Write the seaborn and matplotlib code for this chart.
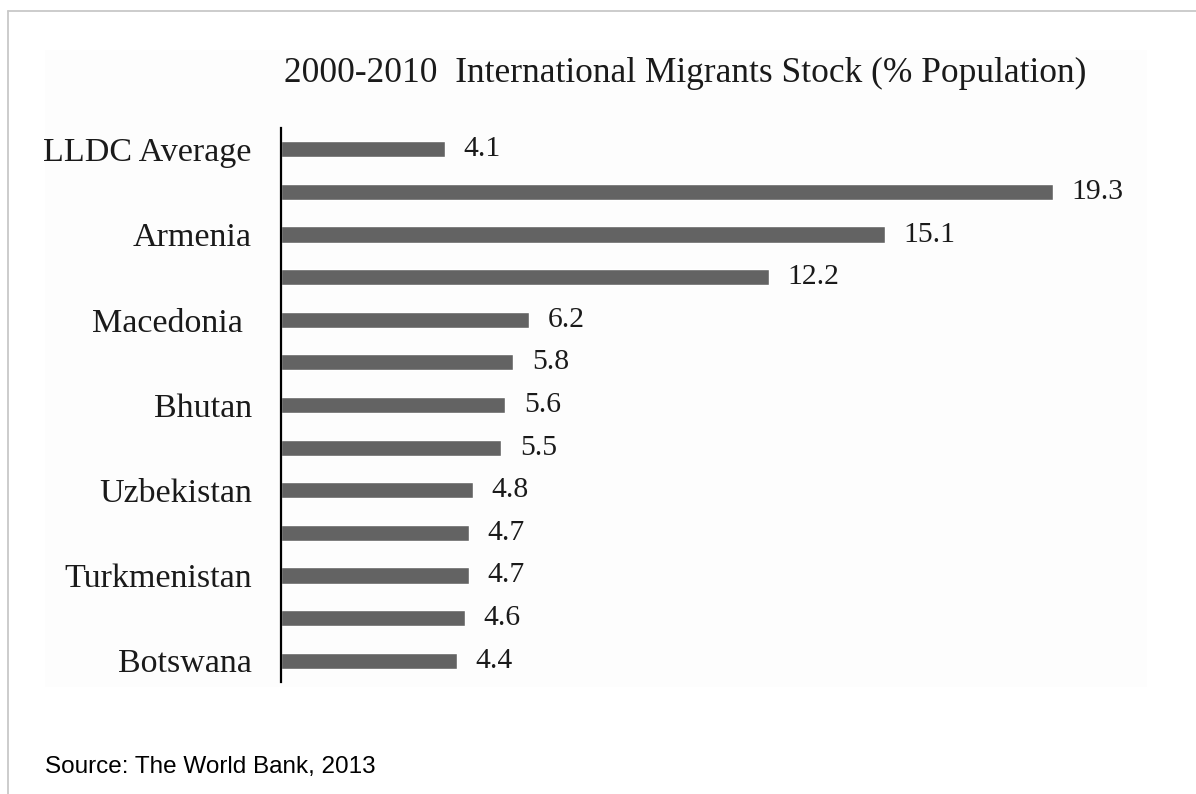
import matplotlib
matplotlib.use("Agg")
import matplotlib.pyplot as plt
from matplotlib.lines import Line2D
from matplotlib.patches import Rectangle
import seaborn as sns
import pandas as pd

# International migrant stock, 2000-2010 (% of population); every other label is left blank
labels = ["LLDC Average", "", "Armenia", "", "Macedonia ", "", "Bhutan", "",
          "Uzbekistan", "", "Turkmenistan", "", "Botswana"]
values = [4.1, 19.3, 15.1, 12.2, 6.2, 5.8, 5.6, 5.5, 4.8, 4.7, 4.7, 4.6, 4.4]
title = "2000-2010  International Migrants Stock (% Population)"
source = "Source: The World Bank, 2013"

sns.set_theme(style="white")
plt.rcParams["font.family"] = ["Liberation Serif", "DejaVu Serif"]

W, H = 1196, 794
fig = plt.figure(figsize=(W / 100, H / 100), dpi=100)
fig.patch.set_facecolor("white")

# faint panel behind the chart and thin frame lines
fig.add_artist(Rectangle((45 / W, 1 - 687 / H), (1147 - 45) / W, (687 - 50) / H,
                         transform=fig.transFigure, facecolor="#fdfdfd",
                         edgecolor="none", zorder=0))
fig.add_artist(Line2D([8 / W, 1], [1 - 10.5 / H, 1 - 10.5 / H],
                      transform=fig.transFigure, color="#c8c8c8", lw=1.3))
fig.add_artist(Line2D([8 / W, 8 / W], [0, 1 - 10.5 / H],
                      transform=fig.transFigure, color="#c8c8c8", lw=1.3))

ax = fig.add_axes([281 / W, 1 - 682 / H, 796 / W, (682 - 128) / H])
ax.patch.set_alpha(0)

df = pd.DataFrame({"row": [str(i) for i in range(len(values))], "value": values})
sns.barplot(data=df, x="value", y="row", order=df["row"].tolist(), orient="h",
            color="#636363", saturation=1, width=0.38, ax=ax)

ax.set_xlim(0, 19.9)
ax.set_ylim(len(values) - 0.5, -0.5)
ax.set_xlabel("")
ax.set_ylabel("")
ax.set_xticks([])
ax.set_yticks(range(len(labels)))
ax.set_yticklabels(labels, fontsize=24.5, color="#1a1a1a")
ax.tick_params(axis="y", length=0, pad=21)

for side in ["top", "right", "bottom"]:
    ax.spines[side].set_visible(False)
ax.spines["left"].set_color("black")
ax.spines["left"].set_linewidth(1.6)

for i, v in enumerate(values):
    ax.annotate(f"{v:.1f}", xy=(v, i), xytext=(13.5, 0), textcoords="offset points",
                ha="left", va="center", fontsize=21.3, color="#1a1a1a")

fig.text(685 / W, 1 - 73 / H, title, ha="center", va="center", fontsize=25.5,
         color="#1a1a1a")
fig.text(45 / W, 1 - 773 / H, source, ha="left", va="baseline", fontsize=17.5,
         family=["Liberation Sans", "DejaVu Sans"], color="black")

fig.savefig("out.png", dpi=100)
